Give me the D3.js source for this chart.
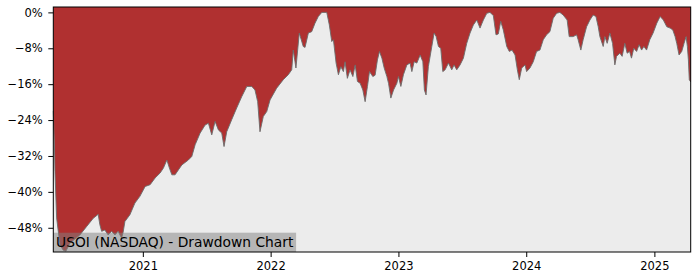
<!DOCTYPE html>
<html>
<head>
<meta charset="utf-8">
<script src="https://cdnjs.cloudflare.com/ajax/libs/d3/7.8.5/d3.min.js"></script>
<style>
  body { margin: 0; background: #fff; }
  svg text { font-family: "DejaVu Sans", sans-serif; fill: #000; }
</style>
</head>
<body>
<script>
// dates as decimal years, drawdown in percent
var years = [
  2020.302, 2020.311, 2020.315, 2020.328, 2020.354, 2020.380, 2020.401, 2020.432, 2020.471, 2020.510,
  2020.563, 2020.614, 2020.653, 2020.666, 2020.680, 2020.705, 2020.731, 2020.758, 2020.784, 2020.809,
  2020.836, 2020.848, 2020.862, 2020.901, 2020.940, 2020.979, 2021.018, 2021.057, 2021.096, 2021.135,
  2021.161, 2021.188, 2021.208, 2021.227, 2021.252, 2021.278, 2021.305, 2021.356, 2021.383, 2021.409,
  2021.448, 2021.487, 2021.513, 2021.539, 2021.565, 2021.591, 2021.617, 2021.635, 2021.656, 2021.695,
  2021.734, 2021.773, 2021.813, 2021.852, 2021.877, 2021.898, 2021.916, 2021.942, 2021.969, 2021.995,
  2022.047, 2022.099, 2022.138, 2022.165, 2022.177, 2022.198, 2022.224, 2022.255, 2022.269, 2022.295,
  2022.321, 2022.347, 2022.373, 2022.400, 2022.439, 2022.459, 2022.478, 2022.491, 2022.512, 2022.530,
  2022.549, 2022.569, 2022.582, 2022.600, 2022.621, 2022.643, 2022.661, 2022.679, 2022.700, 2022.721,
  2022.739, 2022.757, 2022.773, 2022.799, 2022.817, 2022.835, 2022.851, 2022.870, 2022.888, 2022.909,
  2022.922, 2022.940, 2022.961, 2022.987, 2023.000, 2023.019, 2023.039, 2023.066, 2023.091, 2023.105,
  2023.123, 2023.144, 2023.170, 2023.191, 2023.203, 2023.216, 2023.234, 2023.261, 2023.279, 2023.295,
  2023.313, 2023.331, 2023.347, 2023.365, 2023.391, 2023.417, 2023.435, 2023.456, 2023.482, 2023.508,
  2023.534, 2023.560, 2023.586, 2023.613, 2023.638, 2023.664, 2023.691, 2023.716, 2023.742, 2023.763,
  2023.781, 2023.800, 2023.820, 2023.847, 2023.867, 2023.888, 2023.912, 2023.930, 2023.945, 2023.964,
  2023.990, 2024.003, 2024.029, 2024.055, 2024.081, 2024.107, 2024.133, 2024.159, 2024.185, 2024.211,
  2024.238, 2024.263, 2024.289, 2024.320, 2024.336, 2024.367, 2024.394, 2024.406, 2024.427, 2024.445,
  2024.472, 2024.498, 2024.523, 2024.545, 2024.563, 2024.576, 2024.602, 2024.615, 2024.633, 2024.654,
  2024.675, 2024.693, 2024.706, 2024.732, 2024.750, 2024.771, 2024.789, 2024.808, 2024.823, 2024.841,
  2024.863, 2024.883, 2024.902, 2024.920, 2024.941, 2024.966, 2024.992, 2025.019, 2025.045, 2025.070,
  2025.097, 2025.123, 2025.144, 2025.162, 2025.175, 2025.193, 2025.214, 2025.232, 2025.248, 2025.258,
  2025.266, 2025.273, 2025.284
];
var drawdown = [
  -22.0, -30.0, -35.5, -45.8, -51.8, -53.0, -53.2, -51.4, -50.5, -49.6,
  -47.7, -45.9, -45.0, -47.3, -48.8, -48.5, -49.6, -48.8, -49.6, -48.8,
  -50.3, -49.0, -46.6, -45.1, -42.5, -41.0, -38.8, -38.4, -36.9, -35.8,
  -34.7, -32.9, -34.7, -36.2, -36.2, -35.1, -34.0, -32.9, -32.1, -29.5,
  -26.9, -25.1, -24.7, -27.3, -24.3, -26.2, -26.9, -29.9, -26.6, -23.9,
  -21.3, -18.8, -16.5, -16.5, -17.3, -19.9, -26.6, -23.2, -22.1, -19.5,
  -16.9, -15.0, -13.9, -12.8, -8.4, -12.4, -4.6, -7.6, -7.8, -4.6,
  -4.3, -2.4, -0.9, 0.0, 0.0, -2.8, -6.5, -6.1, -11.3, -13.9,
  -12.1, -13.2, -11.0, -14.7, -12.8, -14.3, -11.7, -15.4, -15.8, -17.3,
  -19.9, -16.5, -13.2, -14.3, -14.0, -10.6, -8.7, -10.2, -12.4, -14.3,
  -15.8, -19.1, -17.3, -15.8, -14.3, -16.5, -13.9, -11.7, -11.3, -13.2,
  -11.0, -11.3, -9.5, -11.0, -17.3, -18.4, -12.1, -7.6, -4.6, -5.4,
  -7.6, -8.0, -13.2, -12.8, -11.3, -12.8, -11.7, -12.8, -11.7, -10.2,
  -6.9, -4.6, -2.8, -1.7, -3.5, -1.7, -0.2, 0.0, -0.7, -5.0,
  -4.8, -2.0, -3.9, -7.6, -8.7, -8.4, -9.5, -12.8, -15.0, -12.4,
  -11.7, -13.2, -12.4, -11.0, -8.7, -8.4, -6.1, -5.0, -4.3, -1.3,
  -0.2, 0.0, -0.6, -1.7, -5.4, -5.4, -5.0, -6.1, -8.4, -6.1,
  -3.2, -1.7, -0.6, -0.9, -3.2, -5.4, -7.6, -5.4, -6.9, -4.6,
  -6.9, -11.7, -9.8, -9.1, -9.8, -6.9, -9.1, -8.7, -10.2, -8.0,
  -8.7, -7.2, -8.4, -7.6, -8.4, -6.1, -4.6, -2.4, -0.9, -1.7,
  -3.2, -3.5, -3.9, -5.4, -6.9, -9.5, -8.7, -6.9, -5.4, -7.6,
  -10.6, -15.0, -15.5
];
var yTicks = [0, -8, -16, -24, -32, -40, -48];
var xTickYears = [2021, 2022, 2023, 2024, 2025];
var title = "USOI (NASDAQ) - Drawdown Chart";

function yearToDate(y) {
  var yr = Math.floor(y);
  return new Date(Date.UTC(yr, 0, 1) + (y - yr) * 365.25 * 864e5);
}

var data = years.map(function (y, i) { return { date: yearToDate(y), dd: drawdown[i] }; });

var W = 700, H = 280,
    margin = {top: 7, right: 9.3, bottom: 28, left: 53.3},
    width = W - margin.left - margin.right,
    height = H - margin.top - margin.bottom;

var svg = d3.select("body").append("svg").attr("width", W).attr("height", H);
var g = svg.append("g").attr("transform", "translate(" + margin.left + "," + margin.top + ")");

var x = d3.scaleUtc().domain(d3.extent(data, function (d) { return d.date; })).range([0, width]);
var y = d3.scaleLinear().domain([-53.4, 1.2]).range([height, 0]);

g.append("rect").attr("width", width).attr("height", height).attr("fill", "#ececec");

var area = d3.area()
    .x(function (d) { return x(d.date); })
    .y0(0)
    .y1(function (d) { return y(d.dd); });

g.append("path").datum(data).attr("d", area).attr("fill", "#b03030");

var line = d3.line()
    .x(function (d) { return x(d.date); })
    .y(function (d) { return y(d.dd); });

g.append("path").datum(data).attr("d", line)
    .attr("fill", "none").attr("stroke", "#6b6b6b").attr("stroke-width", 0.9);

// axes
var minus = String.fromCharCode(0x2212);
var yAxis = d3.axisLeft(y).tickValues(yTicks).tickSize(5).tickPadding(5.5)
    .tickFormat(function (d) { return (d < 0 ? minus : "") + Math.abs(d) + "%"; });
var xAxis = d3.axisBottom(x).tickValues(xTickYears.map(function (yr) { return new Date(Date.UTC(yr, 0, 1)); }))
    .tickSize(5).tickPadding(5).tickFormat(d3.utcFormat("%Y"));

g.append("g").attr("font-family", "DejaVu Sans").attr("font-size", 11.5).call(yAxis)
    .call(function (a) { a.select(".domain").remove(); })
    .selectAll("text").style("font-size", "11.5px");

g.append("g").attr("font-family", "DejaVu Sans").attr("font-size", 11.5)
    .attr("transform", "translate(0," + height + ")").call(xAxis)
    .call(function (a) { a.select(".domain").remove(); })
    .selectAll("text").style("font-size", "11.5px");

// title box
var tb = g.append("g");
var tt = tb.append("text").attr("x", 2.8).attr("y", height - 5.3)
    .style("font-size", "13.8px").attr("fill", "#111").text(title);
var bw = tt.node().getComputedTextLength();
tb.insert("rect", "text").attr("x", 0).attr("y", height - 19.3)
    .attr("width", bw + 5.6).attr("height", 19.3)
    .attr("fill", "#808080").attr("fill-opacity", 0.5);

// frame
g.append("rect").attr("width", width).attr("height", height)
    .attr("fill", "none").attr("stroke", "#000").attr("stroke-width", 1);
</script>
</body>
</html>
